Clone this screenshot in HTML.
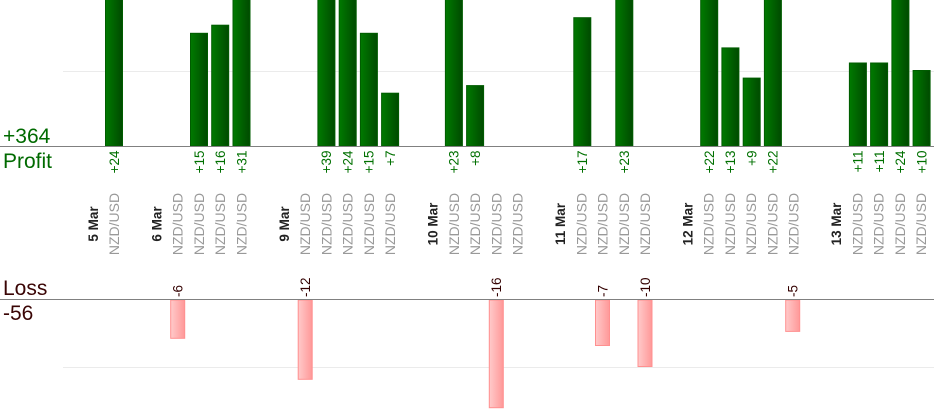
<!DOCTYPE html>
<html><head><meta charset="utf-8"><style>
html,body{margin:0;padding:0;background:#fff;}
svg{display:block;font-family:"Liberation Sans",Arial,sans-serif;}
</style></head><body>
<svg width="934" height="420" viewBox="0 0 934 420" xmlns="http://www.w3.org/2000/svg">
<defs>
<linearGradient id="g" x1="0" y1="0" x2="1" y2="0"><stop offset="0" stop-color="#007a00"/><stop offset="1" stop-color="#004a00"/></linearGradient>
<linearGradient id="r" x1="0" y1="0" x2="1" y2="0"><stop offset="0" stop-color="#ffcaca"/><stop offset="1" stop-color="#ff9898"/></linearGradient>
</defs>
<!-- gridlines -->
<line x1="63" y1="71.5" x2="934" y2="71.5" stroke="#ebebeb" stroke-width="1"/>
<line x1="63" y1="367.5" x2="934" y2="367.5" stroke="#ebebeb" stroke-width="1"/>

<!-- profit bars: cx = 114 + 21.24*j ; top = 146 - v*7.55 -->
<g fill="url(#g)" stroke="#005c00" stroke-width="1">
<rect x="105.5" y="-10" width="17" height="156"/>
<rect x="190.5" y="33.3" width="17" height="112.7"/>
<rect x="211.7" y="25.2" width="17" height="120.8"/>
<rect x="233" y="-10" width="17" height="156"/>
<rect x="317.9" y="-10" width="17" height="156"/>
<rect x="339.2" y="-10" width="17" height="156"/>
<rect x="360.4" y="33.3" width="17" height="112.7"/>
<rect x="381.6" y="93.2" width="17" height="52.8"/>
<rect x="445.4" y="-10" width="17" height="156"/>
<rect x="466.6" y="85.6" width="17" height="60.4"/>
<rect x="573.8" y="17.7" width="17" height="128.3"/>
<rect x="615.8" y="-10" width="17" height="156"/>
<rect x="700.7" y="-10" width="17" height="156"/>
<rect x="721.9" y="47.9" width="17" height="98.1"/>
<rect x="743.2" y="78.1" width="17" height="67.9"/>
<rect x="764.4" y="-10" width="17" height="156"/>
<rect x="849.4" y="63.0" width="17" height="83"/>
<rect x="870.6" y="63.0" width="17" height="83"/>
<rect x="891.9" y="-10" width="17" height="156"/>
<rect x="913.1" y="70.5" width="17" height="75.5"/>
</g>

<!-- loss bars -->
<g fill="url(#r)" stroke="#ff9090" stroke-width="1">
<rect x="170.7" y="300" width="14" height="38.3"/>
<rect x="298.2" y="300" width="14" height="79.3"/>
<rect x="489.3" y="300" width="14" height="107.7"/>
<rect x="595.5" y="300" width="14" height="45.5"/>
<rect x="638" y="300" width="14" height="66.5"/>
<rect x="785.7" y="300" width="14" height="31.4"/>
</g>

<!-- baselines -->
<line x1="0" y1="146.5" x2="934" y2="146.5" stroke="#808080" stroke-width="1"/>
<line x1="0" y1="299.5" x2="934" y2="299.5" stroke="#808080" stroke-width="1"/>

<!-- left labels -->
<g font-size="21">
<text x="3" y="143" fill="#006a00">+364</text>
<text x="3" y="168" fill="#006a00">Profit</text>
<text x="3" y="295" fill="#3a0505">Loss</text>
<text x="3" y="320" fill="#3a0505">-56</text>
</g>

<!-- profit value labels -->
<g font-size="13.5" fill="#007000" text-anchor="end">
<text transform="translate(118.8,150.5) rotate(-90)">+24</text>
<text transform="translate(203.8,150.5) rotate(-90)">+15</text>
<text transform="translate(225,150.5) rotate(-90)">+16</text>
<text transform="translate(246.3,150.5) rotate(-90)">+31</text>
<text transform="translate(331.2,150.5) rotate(-90)">+39</text>
<text transform="translate(352.5,150.5) rotate(-90)">+24</text>
<text transform="translate(373.7,150.5) rotate(-90)">+15</text>
<text transform="translate(394.9,150.5) rotate(-90)">+7</text>
<text transform="translate(458.7,150.5) rotate(-90)">+23</text>
<text transform="translate(479.9,150.5) rotate(-90)">+8</text>
<text transform="translate(587.1,150.5) rotate(-90)">+17</text>
<text transform="translate(629.1,150.5) rotate(-90)">+23</text>
<text transform="translate(714,150.5) rotate(-90)">+22</text>
<text transform="translate(735.2,150.5) rotate(-90)">+13</text>
<text transform="translate(756.5,150.5) rotate(-90)">+9</text>
<text transform="translate(777.7,150.5) rotate(-90)">+22</text>
<text transform="translate(862.7,150.5) rotate(-90)">+11</text>
<text transform="translate(883.9,150.5) rotate(-90)">+11</text>
<text transform="translate(905.2,150.5) rotate(-90)">+24</text>
<text transform="translate(926.4,150.5) rotate(-90)">+10</text>
</g>

<!-- loss value labels -->
<g font-size="13.5" fill="#330000" text-anchor="start">
<text transform="translate(182.5,297) rotate(-90)">-6</text>
<text transform="translate(310,297) rotate(-90)">-12</text>
<text transform="translate(501.1,297) rotate(-90)">-16</text>
<text transform="translate(607.3,297) rotate(-90)">-7</text>
<text transform="translate(649.8,297) rotate(-90)">-10</text>
<text transform="translate(797.5,297) rotate(-90)">-5</text>
</g>

<!-- date labels -->
<g font-size="13.5" font-weight="bold" fill="#222" text-anchor="middle">
<text transform="translate(97.8,224) rotate(-90)">5 Mar</text>
<text transform="translate(161.5,224) rotate(-90)">6 Mar</text>
<text transform="translate(288.9,224) rotate(-90)">9 Mar</text>
<text transform="translate(437.6,224) rotate(-90)">10 Mar</text>
<text transform="translate(565,224) rotate(-90)">11 Mar</text>
<text transform="translate(692.5,224) rotate(-90)">12 Mar</text>
<text transform="translate(841.2,224) rotate(-90)">13 Mar</text>
</g>

<!-- pair labels -->
<g font-size="14" fill="#999" text-anchor="middle">
<text transform="translate(119,224) rotate(-90)">NZD/USD</text>
<text transform="translate(182.7,224) rotate(-90)">NZD/USD</text>
<text transform="translate(204,224) rotate(-90)">NZD/USD</text>
<text transform="translate(225.2,224) rotate(-90)">NZD/USD</text>
<text transform="translate(246.4,224) rotate(-90)">NZD/USD</text>
<text transform="translate(310.2,224) rotate(-90)">NZD/USD</text>
<text transform="translate(331.4,224) rotate(-90)">NZD/USD</text>
<text transform="translate(352.6,224) rotate(-90)">NZD/USD</text>
<text transform="translate(373.9,224) rotate(-90)">NZD/USD</text>
<text transform="translate(395.1,224) rotate(-90)">NZD/USD</text>
<text transform="translate(458.8,224) rotate(-90)">NZD/USD</text>
<text transform="translate(480.1,224) rotate(-90)">NZD/USD</text>
<text transform="translate(501.3,224) rotate(-90)">NZD/USD</text>
<text transform="translate(522.6,224) rotate(-90)">NZD/USD</text>
<text transform="translate(586.3,224) rotate(-90)">NZD/USD</text>
<text transform="translate(607.5,224) rotate(-90)">NZD/USD</text>
<text transform="translate(628.8,224) rotate(-90)">NZD/USD</text>
<text transform="translate(650,224) rotate(-90)">NZD/USD</text>
<text transform="translate(713.7,224) rotate(-90)">NZD/USD</text>
<text transform="translate(735,224) rotate(-90)">NZD/USD</text>
<text transform="translate(756.2,224) rotate(-90)">NZD/USD</text>
<text transform="translate(777.4,224) rotate(-90)">NZD/USD</text>
<text transform="translate(798.7,224) rotate(-90)">NZD/USD</text>
<text transform="translate(862.4,224) rotate(-90)">NZD/USD</text>
<text transform="translate(883.6,224) rotate(-90)">NZD/USD</text>
<text transform="translate(904.9,224) rotate(-90)">NZD/USD</text>
<text transform="translate(926.1,224) rotate(-90)">NZD/USD</text>
</g>
</svg>
</body></html>
